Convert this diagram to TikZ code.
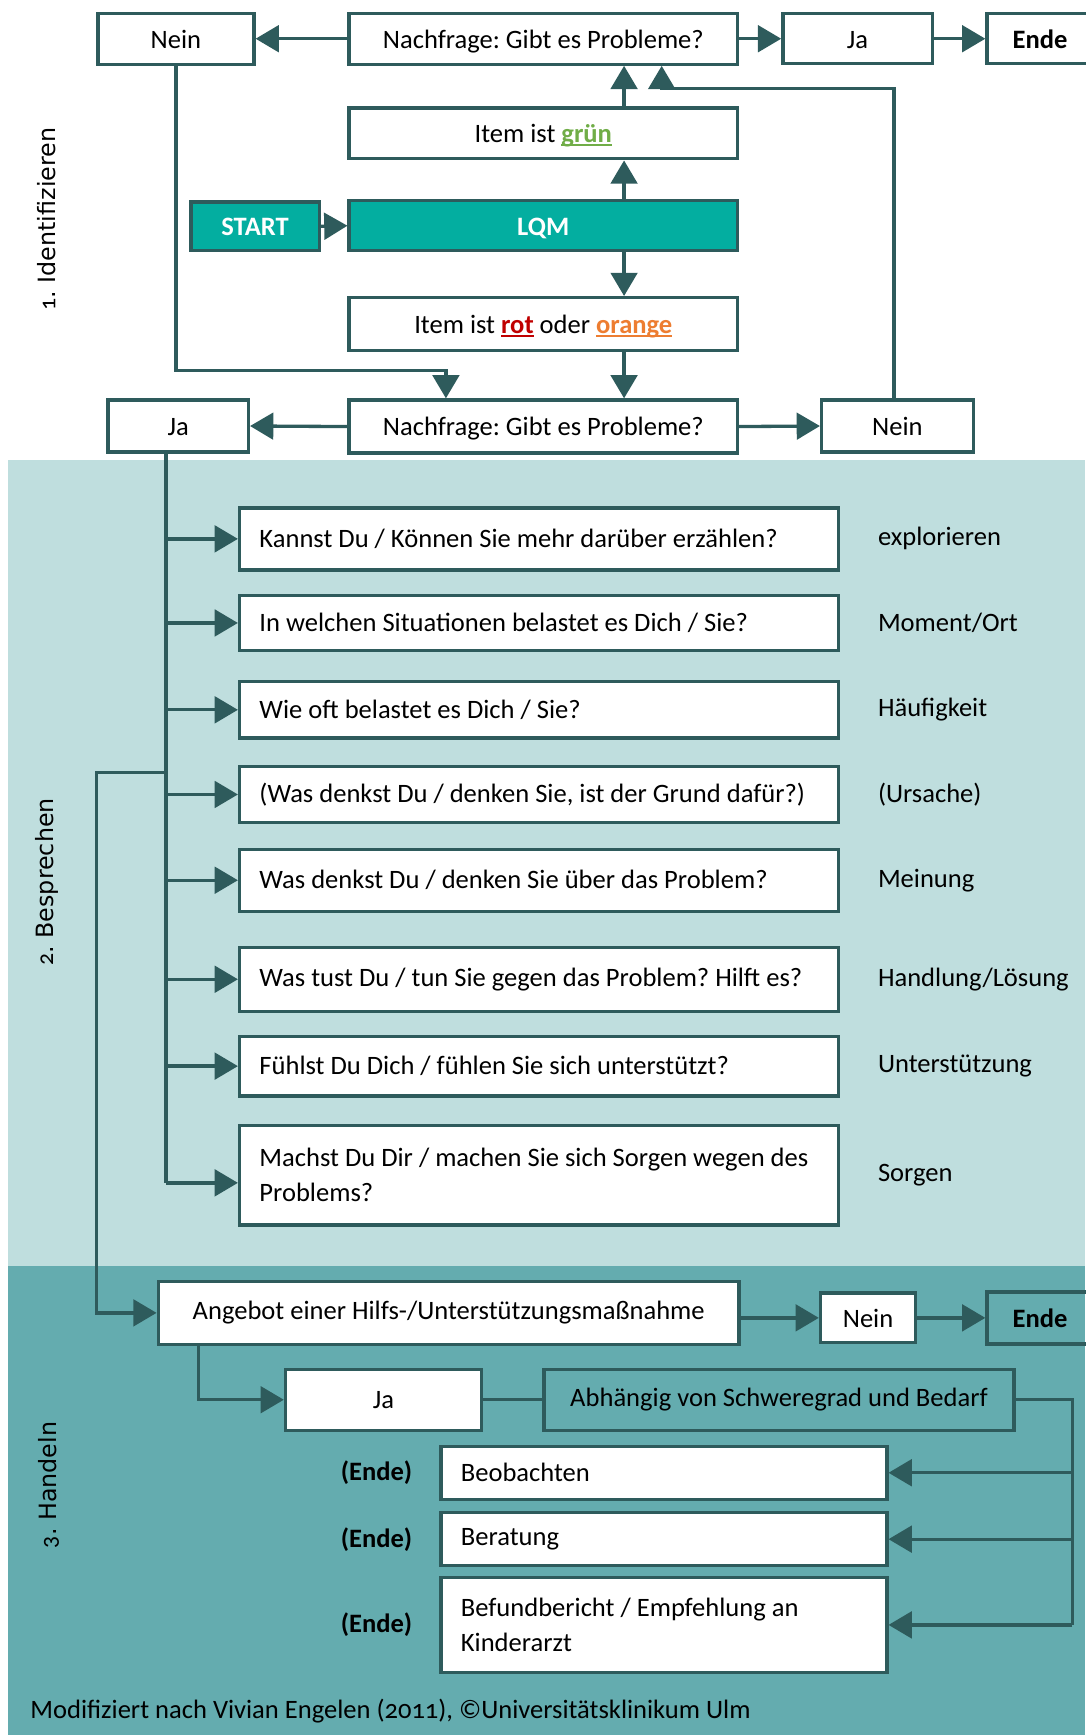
\documentclass[tikz,border=0pt]{standalone}
\usepackage{fontspec}
\setmainfont{Carlito}[Numbers=OldStyle]
\newfontfamily\sectfont{DejaVu Sans}
\usepackage{tikz}
\usetikzlibrary{positioning,arrows.meta}
\definecolor{darkteal}{HTML}{2E5B5C}
\definecolor{lqmteal}{HTML}{03AEA0}
\definecolor{lightband}{HTML}{BFDEDE}
\definecolor{darkband}{HTML}{64ACAF}
\definecolor{itemgreen}{HTML}{70AD47}
\definecolor{itemred}{HTML}{C00000}
\definecolor{itemorange}{HTML}{ED7D31}
\newcommand{\mainsize}{\fontsize{24}{32}\selectfont}
\newcommand{\ulword}[2]{{\color{#1}\setbox0\hbox{#2}\rlap{\rule[-3pt]{\wd0}{1.6pt}}\box0}}
\frenchspacing

\begin{document}
\begin{tikzpicture}[x=1pt,y=-1pt,line width=3pt]

  \tikzstyle{boxnode}=[draw=darkteal,line width=3pt,fill=white,shape=rectangle,inner sep=0pt,font=\mainsize]
  \tikzstyle{topnode}=[boxnode,text height=17pt,text depth=0pt]
  \tikzstyle{tealnode}=[topnode,fill=lqmteal,text=white,font=\mainsize\bfseries]
  \tikzstyle{clearnode}=[boxnode,fill=none]
  \tikzstyle{questnode}=[boxnode,minimum width=541pt,text width=505pt,inner xsep=18pt,align=flush left]
  \tikzstyle{actnode}=[boxnode,minimum width=403pt,text width=367pt,inner xsep=18pt,align=flush left]
  \tikzstyle{sidelabel}=[font=\mainsize,inner sep=3pt]
  \tikzstyle{endlabel}=[font=\mainsize\bfseries,inner sep=3pt]
  \tikzstyle{sectlabel}=[rotate=90,inner sep=0pt,font={\fontsize{21.5}{26}\sectfont}]
  \tikzstyle{link}=[draw=darkteal,line width=3pt]
  \tikzstyle{arr}=[link,-{Triangle[length=21pt,width=24pt]}]

  \useasboundingbox (0,0) rectangle (981,1568);
  \fill[lightband] (7,416) rectangle (981,1144);
  \fill[darkband]  (7,1144) rectangle (981,1568);

  % 1. Identifizieren
  \node[topnode,minimum width=141pt,minimum height=46pt] (nein1)  at (159,35)  {Nein};
  \node[topnode,minimum width=351pt,minimum height=46pt] (frage1) at (491,35)  {Nachfrage: Gibt es Probleme?};
  \node[topnode,minimum width=135pt,minimum height=45pt] (ja1)    at (775,35)  {Ja};
  \node[topnode,minimum width=96pt,minimum height=45pt,font=\mainsize\bfseries] (ende1) at (940,35) {Ende};
  \node[topnode,minimum width=351pt,minimum height=46pt] (gruen)  at (491,120.5) {Item ist \ulword{itemgreen}{\bfseries grün}};
  \node[tealnode,minimum width=116pt,minimum height=44pt] (start) at (230.5,204.5) {START};
  \node[tealnode,minimum width=351pt,minimum height=45pt] (lqm)   at (491,204)   {LQM};
  \node[topnode,minimum width=351pt,minimum height=48pt] (rot)    at (491,293)   {Item ist \ulword{itemred}{\bfseries rot} oder \ulword{itemorange}{\bfseries orange}};
  \node[topnode,minimum width=351pt,minimum height=48pt] (frage2) at (491,385.5) {Nachfrage: Gibt es Probleme?};
  \node[topnode,minimum width=127pt,minimum height=47pt] (ja2)    at (161,385)   {Ja};
  \node[topnode,minimum width=137pt,minimum height=47pt] (nein2)  at (811,385)   {Nein};

  % 2. Besprechen
  \node[questnode,minimum height=56pt] (q1) at (487,487)    {Kannst Du / Können Sie mehr darüber erzählen?};
  \node[questnode,minimum height=50pt] (q2) at (487,563)    {In welchen Situationen belastet es Dich / Sie?};
  \node[questnode,minimum height=51pt] (q3) at (487,641.5)  {Wie oft belastet es Dich / Sie?};
  \node[questnode,minimum height=51pt] (q4) at (487,718)    {(Was denkst Du / denken Sie, ist der Grund dafür?)};
  \node[questnode,minimum height=56pt] (q5) at (487,795.5)  {Was denkst Du / denken Sie über das Problem?};
  \node[questnode,minimum height=58pt] (q6) at (487,885)    {Was tust Du / tun Sie gegen das Problem? Hilft es?};
  \node[questnode,minimum height=54pt] (q7) at (487,963.5)  {Fühlst Du Dich / fühlen Sie sich unterstützt?};
  \node[questnode,minimum height=90pt] (q8) at (487,1062)   {\mbox{Machst Du Dir / machen Sie sich Sorgen wegen des}\\Problems?};

  \node[sidelabel,right=30pt of q1] (l1) {explorieren};
  \node[sidelabel,right=30pt of q2] (l2) {Moment/Ort};
  \node[sidelabel,right=30pt of q3] (l3) {Häufigkeit};
  \node[sidelabel,right=30pt of q4] (l4) {(Ursache)};
  \node[sidelabel,right=30pt of q5] (l5) {Meinung};
  \node[sidelabel,right=30pt of q6] (l6) {Handlung/Lösung};
  \node[sidelabel,right=30pt of q7] (l7) {Unterstützung};
  \node[sidelabel,right=30pt of q8] (l8) {Sorgen};

  % 3. Handeln
  \node[boxnode,minimum width=525pt,minimum height=57pt] (angebot) at (405.5,1186.5) {Angebot einer Hilfs-/Unterstützungsmaßnahme};
  \node[topnode,minimum width=86pt,minimum height=45pt]  (nein3)   at (784.5,1191)  {Nein};
  \node[clearnode,minimum width=96pt,minimum height=47pt,text height=17pt,text depth=0pt,font=\mainsize\bfseries] (ende3) at (940,1191) {Ende};
  \node[boxnode,minimum width=177pt,minimum height=55pt] (ja3)     at (346.5,1265)  {Ja};
  \node[clearnode,minimum width=425pt,minimum height=55pt] (abh)   at (704,1265)    {Abhängig von Schweregrad und Bedarf};
  \node[actnode,minimum height=48pt] (beob) at (600,1331)   {Beobachten};
  \node[actnode,minimum height=48pt] (ber)  at (600,1391)   {Beratung};
  \node[actnode,minimum height=86pt] (bef)  at (600,1468.5) {Befundbericht / Empfehlung an\\Kinderarzt};
  \node[endlabel,left=20pt of beob] (e1) {(Ende)};
  \node[endlabel,left=20pt of ber]  (e2) {(Ende)};
  \node[endlabel,left=20pt of bef]  (e3) {(Ende)};

  \node[sectlabel] (sect1) at (42,198)   {{\rmfamily 1}. Identifizieren};
  \node[sectlabel] (sect2) at (42,797)   {{\rmfamily 2}. Besprechen};
  \node[sectlabel] (sect3) at (44,1342)  {{\rmfamily 3}. Handeln};
  \node[anchor=west,inner sep=0pt,font=\mainsize] (credit) at (26,1546) {Modifiziert nach Vivian Engelen (2011), ©Universitätsklinikum Ulm};

  \coordinate (mid)   at (564,0);
  \coordinate (trunk) at (150,0);
  \coordinate (rline) at (969,0);
  \coordinate (nbend) at (403,335);
  \coordinate (rbend) at (598,80);
  \coordinate (split) at (150,698);
  \coordinate (q8in)  at ([yshift=-7pt]q8.west);

  \draw[arr] (frage1.west) -- (nein1.east);
  \draw[arr] (frage1.east) -- (ja1.west);
  \draw[arr] (ja1.east) -- (ende1.west);
  \draw[arr] (start.east) -- (lqm.west);
  \draw[arr] (lqm.north -| mid) -- (gruen.south -| mid);
  \draw[arr] (gruen.north -| mid) -- (frage1.south -| mid);
  \draw[arr] (lqm.south -| mid) -- (rot.north -| mid);
  \draw[arr] (rot.south -| mid) -- (frage2.north -| mid);
  \draw[arr] (nein1.south) |- (nbend) -- (nbend |- frage2.north);
  \draw[arr] (nein2.north -| 808,0) |- (rbend) -- (rbend |- frage1.south);
  \draw[arr] (frage2.west) -- (ja2.east);
  \draw[arr] (frage2.east) -- (nein2.west);

  \draw[link] (ja2.south -| trunk) -- (q8in -| trunk);
  \foreach \q in {q1,q2,q3,q4,q5,q6,q7}
    \draw[arr] (\q.west -| trunk) -- (\q.west);
  \draw[arr] (q8in -| trunk) -- (q8in);
  \draw[arr] (split) -- ++(-63,0) |- (angebot.west);

  \draw[arr] (nein3.west -| angebot.east) -- (nein3.west);
  \draw[arr] (nein3.east) -- (ende3.west);
  \draw[arr] ([xshift=38pt]angebot.south west) |- (ja3.west);
  \draw[link] (ja3.east) -- (abh.west);
  \draw[link] (abh.east) -| (bef.east -| rline);
  \foreach \a in {beob,ber,bef}
    \draw[arr] (\a.east -| rline) -- (\a.east);

\end{tikzpicture}
\end{document}
